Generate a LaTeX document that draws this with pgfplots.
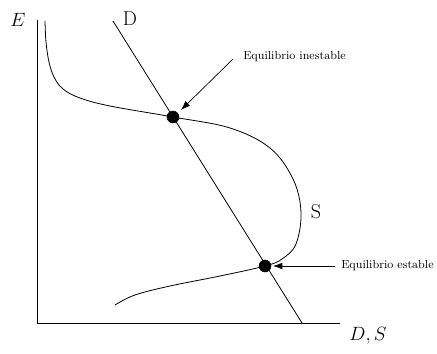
\documentclass[border=0pt]{standalone}
\usepackage{pgfplots}
\pgfplotsset{compat=1.18}
\usetikzlibrary{arrows.meta}

\begin{document}
\begin{tikzpicture}
  \begin{axis}[
    scale only axis,
    width=227.25pt, height=227.25pt,
    xmin=37, xmax=340, ymin=31, ymax=334,
    axis lines=left,
    axis line style={-, line width=0.6pt},
    ticks=none,
    clip=false,
  ]
  % bounding box of the whole picture (pixel units)
  \path (axis cs:0,0) rectangle (axis cs:437,354);

  % demand line D
  \addplot[black, line width=0.6pt] coordinates {(113,333) (302,31)};

  % supply curve S
  \addplot[black, line width=0.6pt, smooth, tension=0.6] coordinates {
    (45,333) (46,312) (49,292) (54,277) (63,265) (80,256)
    (110,248) (173,237) (230,226) (270,206) (293,175) (301,142)
    (296,110) (282,95) (265,88) (220,78) (170,68) (135,59) (115,49)
  };

  % equilibrium points
  \addplot[only marks, mark=*, mark size=4.5pt, black] coordinates {(173,237) (265,88)};

  \draw[-{Latex[length=7pt,width=5pt]}, line width=0.5pt]
    (axis cs:233,295) -- (axis cs:181,244);
  \draw[-{Latex[length=7pt,width=5pt]}, line width=0.5pt]
    (axis cs:335,88) -- (axis cs:273,88);

  \node[anchor=west, inner sep=0pt, font=\fontsize{8.8}{9}\selectfont] at (axis cs:243,297) {Equilibrio inestable};
  \node[anchor=west, inner sep=0pt, font=\fontsize{8.8}{9}\selectfont] at (axis cs:341,88) {Equilibrio estable};

  \node[font=\fontsize{15}{15}\selectfont] at (axis cs:18,334) {$E$};
  \node[font=\fontsize{15}{15}\selectfont] at (axis cs:130,335) {D};
  \node[font=\fontsize{15}{15}\selectfont] at (axis cs:316,142) {S};
  \node[font=\fontsize{15}{15}\selectfont] at (axis cs:368,18) {$D,S$};
  \end{axis}
\end{tikzpicture}
\end{document}
